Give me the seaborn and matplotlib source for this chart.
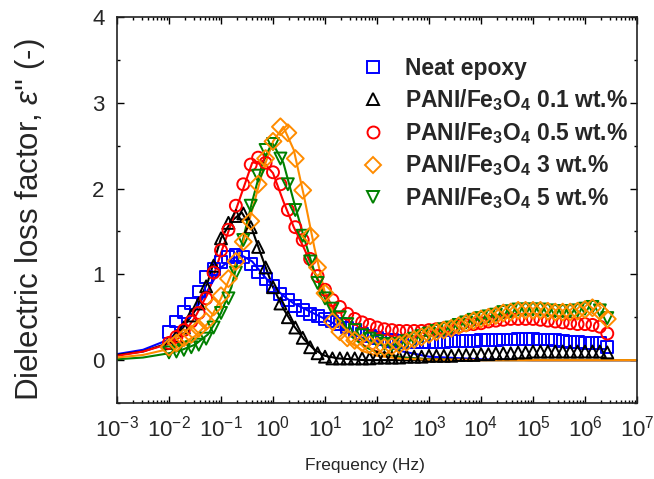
import numpy as np
import matplotlib.pyplot as plt
import seaborn as sns
from matplotlib.lines import Line2D
from matplotlib.ticker import MultipleLocator, LogLocator, NullFormatter

# measured points: 7 per decade, 0.01 Hz up to ~3 MHz
freq = np.logspace(-2, -2 + 59 / 7, 60)

neat = [0.33, 0.45, 0.56, 0.66, 0.80, 0.97, 1.06, 1.14, 1.20, 1.22,
        1.20, 1.12, 1.03, 0.95, 0.86, 0.77, 0.70, 0.63, 0.58, 0.54,
        0.51, 0.48, 0.45, 0.42, 0.38, 0.35, 0.31, 0.28, 0.26, 0.24,
        0.23, 0.22, 0.21, 0.21, 0.21, 0.21, 0.21, 0.21, 0.22, 0.22,
        0.22, 0.22, 0.23, 0.23, 0.23, 0.24, 0.24, 0.25, 0.25, 0.25,
        0.24, 0.24, 0.23, 0.22, 0.21, 0.21, 0.20, 0.20, 0.20, 0.15]
pani_01 = [0.20, 0.28, 0.38, 0.52, 0.66, 0.86, 1.10, 1.42, 1.60, 1.68,
           1.71, 1.55, 1.32, 1.08, 0.85, 0.66, 0.50, 0.38, 0.26, 0.15,
           0.08, 0.04, 0.02, 0.02, 0.02, 0.02, 0.02, 0.02, 0.03, 0.03,
           0.03, 0.03, 0.04, 0.04, 0.04, 0.05, 0.05, 0.05, 0.05, 0.06,
           0.06, 0.06, 0.07, 0.07, 0.08, 0.08, 0.08, 0.09, 0.09, 0.10,
           0.10, 0.10, 0.10, 0.10, 0.10, 0.10, 0.10, 0.10, 0.10, 0.09]
pani_05 = [0.20, 0.27, 0.35, 0.45, 0.55, 0.72, 1.02, 1.28, 1.52, 1.80,
           2.05, 2.28, 2.36, 2.30, 2.19, 2.05, 1.75, 1.55, 1.40, 1.18,
           0.98, 0.82, 0.70, 0.62, 0.54, 0.48, 0.44, 0.41, 0.38, 0.36,
           0.35, 0.34, 0.34, 0.34, 0.34, 0.35, 0.36, 0.37, 0.38, 0.39,
           0.41, 0.42, 0.43, 0.45, 0.46, 0.47, 0.48, 0.48, 0.48, 0.48,
           0.47, 0.46, 0.45, 0.44, 0.43, 0.42, 0.42, 0.41, 0.39, 0.31]
pani_3 = [0.15, 0.20, 0.26, 0.30, 0.37, 0.45, 0.62, 0.75, 0.95, 1.15,
          1.38, 1.62, 2.05, 2.35, 2.55, 2.72, 2.65, 2.35, 1.98, 1.45,
          1.08, 0.78, 0.45, 0.33, 0.26, 0.23, 0.20, 0.18, 0.16, 0.15,
          0.16, 0.18, 0.21, 0.24, 0.27, 0.30, 0.33, 0.35, 0.37, 0.40,
          0.43, 0.46, 0.48, 0.50, 0.52, 0.55, 0.56, 0.58, 0.58, 0.58,
          0.58, 0.57, 0.56, 0.56, 0.56, 0.57, 0.59, 0.61, 0.57, 0.48]
pani_5 = [0.09, 0.10, 0.12, 0.15, 0.18, 0.25, 0.38, 0.55, 0.72, 1.02,
          1.40, 1.80, 2.15, 2.45, 2.52, 2.35, 2.05, 1.75, 1.45, 1.15,
          0.90, 0.72, 0.60, 0.50, 0.42, 0.35, 0.29, 0.25, 0.22, 0.19,
          0.18, 0.19, 0.22, 0.25, 0.28, 0.31, 0.34, 0.36, 0.38, 0.41,
          0.44, 0.47, 0.49, 0.51, 0.53, 0.56, 0.57, 0.59, 0.59, 0.59,
          0.59, 0.58, 0.57, 0.57, 0.57, 0.58, 0.60, 0.62, 0.58, 0.49]

# fitted curves (log10 of frequency)
fit_exp = [-3, -2.5, -2, -1.75, -1.5, -1.25, -1, -0.8, -0.6, -0.4, -0.2, 0, 0.2,
           0.4, 0.6, 0.8, 1, 1.25, 1.5, 1.75, 2, 2.5, 3, 4, 5, 6, 7]
fit_neat = [0.07, 0.12, 0.24, 0.38, 0.58, 0.82, 1.08, 1.18, 1.22, 1.15, 1.00, 0.86, 0.75,
            0.66, 0.60, 0.54, 0.48, 0.40, 0.32, 0.25, 0.19, 0.10, 0.04, 0.01, 0, 0, 0]
fit_01 = [0.06, 0.10, 0.20, 0.36, 0.58, 0.92, 1.42, 1.62, 1.72, 1.52, 1.18, 0.85, 0.60,
          0.40, 0.24, 0.12, 0.05, 0.02, 0.01, 0, 0, 0, 0, 0, 0, 0, 0]
fit_05 = [0.05, 0.10, 0.19, 0.28, 0.50, 0.78, 1.25, 1.60, 1.95, 2.30, 2.32, 2.18, 1.85,
          1.55, 1.30, 1.02, 0.78, 0.50, 0.30, 0.17, 0.10, 0.03, 0.01, 0, 0, 0, 0]
fit_3 = [0.03, 0.06, 0.13, 0.19, 0.28, 0.43, 0.72, 1.00, 1.32, 1.75, 2.20, 2.55, 2.72,
         2.45, 1.90, 1.30, 0.78, 0.40, 0.20, 0.10, 0.05, 0.015, 0.005, 0, 0, 0, 0]
fit_5 = [0.01, 0.03, 0.08, 0.12, 0.18, 0.30, 0.55, 0.85, 1.35, 1.85, 2.30, 2.52, 2.30,
         1.85, 1.42, 1.02, 0.72, 0.45, 0.28, 0.16, 0.09, 0.03, 0.01, 0, 0, 0, 0]
fit_freq = 10.0 ** np.array(fit_exp)

labels = ["Neat epoxy",
          r"PANI/Fe$_\mathbf{3}$O$_\mathbf{4}$ 0.1 wt.%",
          r"PANI/Fe$_\mathbf{3}$O$_\mathbf{4}$ 0.5 wt.%",
          r"PANI/Fe$_\mathbf{3}$O$_\mathbf{4}$ 3 wt.%",
          r"PANI/Fe$_\mathbf{3}$O$_\mathbf{4}$ 5 wt.%"]
markers = ["s", "^", "o", "D", "v"]
colors = ["#0000FF", "#000000", "#FF0000", "#FF8C00", "#008000"]
values = [neat, pani_01, pani_05, pani_3, pani_5]
fits = [fit_neat, fit_01, fit_05, fit_3, fit_5]

sns.set_theme(style="ticks")
plt.rcParams["font.family"] = ["Liberation Sans", "DejaVu Sans"]
plt.rcParams["mathtext.fontset"] = "custom"
plt.rcParams["mathtext.rm"] = "Liberation Sans"
plt.rcParams["mathtext.it"] = "Liberation Sans:italic"
plt.rcParams["mathtext.bf"] = "Liberation Sans:bold"
plt.rcParams["axes.unicode_minus"] = False

fig = plt.figure(figsize=(6.54, 4.79), dpi=100)
ax = fig.add_axes([117 / 654, 1 - 403 / 479, 520 / 654, 386 / 479])
ax.set_xscale("log")

# green drawn before orange, orange ends up on top
for i in [0, 1, 2, 4, 3]:
    sns.lineplot(x=fit_freq, y=fits[i], color=colors[i], linewidth=1.5, ax=ax)
    sns.scatterplot(x=freq, y=values[i], marker=markers[i], s=74, color=colors[i],
                    facecolor="none", edgecolor=colors[i], linewidth=1.4, ax=ax, zorder=3)

ax.set_xlim(1e-3, 1e7)
ax.set_ylim(-0.5, 4)
ax.xaxis.set_major_locator(LogLocator(base=10, numticks=20))
ax.xaxis.set_minor_locator(LogLocator(base=10, subs=np.arange(2, 10), numticks=200))
ax.xaxis.set_minor_formatter(NullFormatter())
ax.set_yticks([0, 1, 2, 3, 4])
ax.yaxis.set_minor_locator(MultipleLocator(0.5))
ax.tick_params(which="both", direction="in", top=True, right=True, color="black", width=1)
ax.tick_params(which="major", length=5, labelsize=16)
ax.tick_params(which="minor", length=2.5)
ax.tick_params(axis="x", pad=9)
ax.tick_params(axis="y", pad=9)
for sp in ax.spines.values():
    sp.set_linewidth(1.2)
    sp.set_color("#222222")

ax.set_xlabel("Frequency (Hz)", fontsize=12.5)
ax.xaxis.set_label_coords(0.477, -0.142)
ax.set_ylabel(r"Dielectric loss factor, $\mathit{\varepsilon}$'' (-)", fontsize=22.5)
ax.yaxis.set_label_coords(-0.135, 0.474)

handles = [Line2D([], [], linestyle="none", marker=m, markersize=8.6, markerfacecolor="none",
                  markeredgecolor=c, markeredgewidth=1.4) for m, c in zip(markers, colors)]
ax.legend(handles, labels, loc="upper left", bbox_to_anchor=(0.465, 0.896), frameon=False,
          prop={"weight": "bold", "size": 16.5}, handlelength=1.2, handletextpad=0.82,
          labelspacing=0.3, borderpad=0, borderaxespad=0)

fig.savefig("out.png", dpi=100)
